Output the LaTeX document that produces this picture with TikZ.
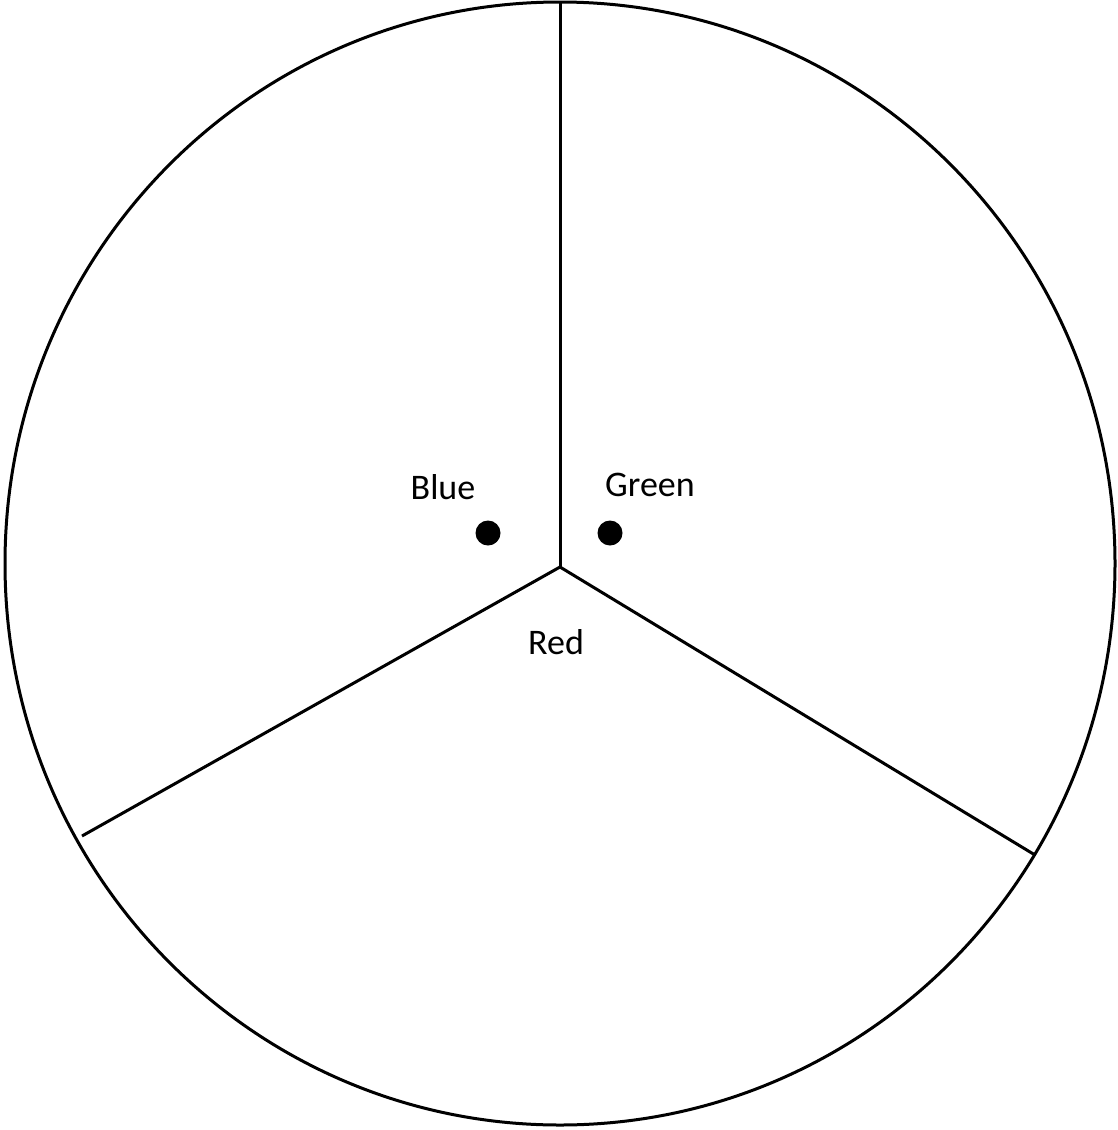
\documentclass[tikz,border=0pt]{standalone}
\usepackage{fontspec}
\setmainfont{Carlito}
\begin{document}
\begin{tikzpicture}[x=1pt,y=-1pt,
  edge/.style={line width=3pt, black},
  dotmark/.style={circle, fill=black, inner sep=0pt, minimum size=25pt},
  lbl/.style={font=\fontsize{36}{40}\selectfont, anchor=base, inner sep=0pt}]
\useasboundingbox (0,0) rectangle (1118,1130);
\draw[edge] (560,563.5) ellipse [x radius=555, y radius=561.5];
\coordinate (c) at (560,567);
\coordinate (top) at (560,2);
\coordinate (left) at (82,836);
\coordinate (right) at (1035,855);
\draw[edge] (c) -- (top);
\draw[edge] (c) -- (left);
\draw[edge] (c) -- (right);
\node[dotmark] (bluedot) at (488,533) {};
\node[dotmark] (greendot) at (610,533) {};
\node[lbl] (blue) at (443,499) {Blue};
\node[lbl] (green) at (650,496) {Green};
\node[lbl] (red) at (556,654) {Red};
\end{tikzpicture}
\end{document}
